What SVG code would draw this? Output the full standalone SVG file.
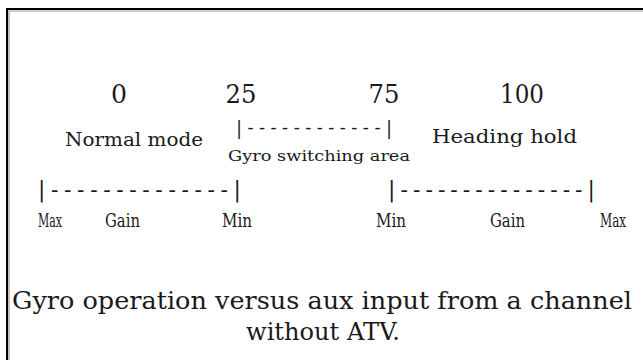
<svg xmlns="http://www.w3.org/2000/svg" width="643" height="360" viewBox="0 0 643 360">
<style>
text{font-family:"DejaVu Serif","Liberation Serif",serif;fill:#1a1a1a}
.num{font-size:26px;text-anchor:middle}
.lbl{font-size:19px}
.sm{font-size:15px}
.br{font-size:22px}
.brs{font-size:18px}
.ax{font-size:18px}
.cap{font-size:25px}
</style>
<rect width="643" height="360" fill="#fff"/>
<g id="frame">
<path d="M7 360V9H643" fill="none" stroke="#000" stroke-width="2"/>
<path d="M9 360V11H643" fill="none" stroke="#999" stroke-width="1.2"/>
</g>
<g id="scale">
<text class="num" x="119" y="103" textLength="16" lengthAdjust="spacingAndGlyphs">0</text>
<text class="num" x="241" y="103" textLength="31" lengthAdjust="spacingAndGlyphs">25</text>
<text class="num" x="384" y="103" textLength="31" lengthAdjust="spacingAndGlyphs">75</text>
<text class="num" x="522" y="103" textLength="44" lengthAdjust="spacingAndGlyphs">100</text>
</g>
<g id="normal-mode"><text class="lbl" x="65" y="146" textLength="138" lengthAdjust="spacingAndGlyphs">Normal mode</text></g>
<g id="switching-area"><text class="sm" x="228" y="161" textLength="182" lengthAdjust="spacingAndGlyphs">Gyro switching area</text></g>
<g id="heading-hold"><text class="lbl" x="432" y="143" textLength="145" lengthAdjust="spacingAndGlyphs">Heading hold</text></g>
<g id="connectors">
<text class="brs" x="236" y="134" textLength="156" lengthAdjust="spacing">|------------|</text>
<text class="br" x="38" y="197" textLength="203" lengthAdjust="spacing">|--------------|</text>
<text class="br" x="388" y="197" textLength="207" lengthAdjust="spacing">|---------------|</text>
</g>
<g id="gain-labels">
<text class="ax" x="38" y="227" textLength="24" lengthAdjust="spacingAndGlyphs">Max</text>
<text class="ax" x="105" y="227" textLength="35" lengthAdjust="spacingAndGlyphs">Gain</text>
<text class="ax" x="222" y="227" textLength="30" lengthAdjust="spacingAndGlyphs">Min</text>
<text class="ax" x="376" y="227" textLength="30" lengthAdjust="spacingAndGlyphs">Min</text>
<text class="ax" x="490" y="227" textLength="35" lengthAdjust="spacingAndGlyphs">Gain</text>
<text class="ax" x="600" y="227" textLength="26" lengthAdjust="spacingAndGlyphs">Max</text>
</g>
<g id="caption">
<text class="cap" x="12" y="309" textLength="620" lengthAdjust="spacingAndGlyphs">Gyro operation versus aux input from a channel</text>
<text class="cap" x="246" y="340" textLength="154" lengthAdjust="spacingAndGlyphs">without ATV.</text>
</g>
</svg>
